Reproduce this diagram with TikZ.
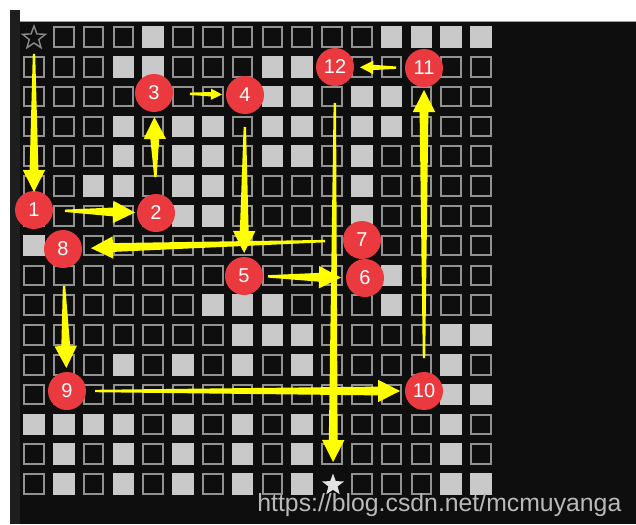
\documentclass[tikz,border=0pt]{standalone}
\usepackage{fontspec}
\setmainfont{Liberation Sans}
\usetikzlibrary{calc, shapes.geometric}
\definecolor{pagebg}{HTML}{FFFFFF}
\definecolor{panelbg}{HTML}{0E0E0E}
\definecolor{sidebar}{HTML}{1E1E1E}
\definecolor{topline}{HTML}{A0A0A0}
\definecolor{celledge}{HTML}{929292}
\definecolor{cellfill}{HTML}{C9C9C9}
\definecolor{badgefill}{HTML}{EB3A3F}
\definecolor{pathyellow}{HTML}{FFFF00}
\definecolor{staredge}{HTML}{8A8A8A}
\definecolor{starfill}{HTML}{E2E2E2}
\definecolor{wmtext}{HTML}{B9B9B9}

% tapered yellow arrow: from, to, gap at start, gap at tip, head scale
\newcommand{\flowarrow}[5]{%
  \path ($(#1)!#3!(#2)$) coordinate (fa-s) ($(#2)!#4!(#1)$) coordinate (fa-t);
  \path ($(fa-t)!{#5*11pt}!(fa-s)$) coordinate (fa-b);
  \fill[pathyellow] ($(fa-s)!0.6pt!90:(fa-t)$) -- ($(fa-b)!{#5*2.2pt}!90:(fa-t)$)
    -- ($(fa-b)!{#5*5.6pt}!90:(fa-t)$) -- (fa-t) -- ($(fa-b)!{#5*5.6pt}!-90:(fa-t)$)
    -- ($(fa-b)!{#5*2.2pt}!-90:(fa-t)$) -- ($(fa-s)!0.6pt!-90:(fa-t)$) -- cycle;
}

\begin{document}
\begin{tikzpicture}[x=0.5pt, y=-0.5pt,
  cellbox/.style={rectangle, draw=celledge, fill=panelbg, line width=1pt,
                  minimum size=9.75pt, inner sep=0pt},
  cellfull/.style={rectangle, fill=cellfill, minimum size=10.75pt, inner sep=0pt},
  badge/.style={circle, fill=badgefill, minimum size=19pt, inner sep=0pt,
                text=white, font=\fontsize{10}{10}\selectfont},
  startstar/.style={star, star points=5, star point ratio=2.4, draw=staredge,
                    fill=panelbg, line width=0.7pt, minimum size=12pt, inner sep=0pt},
  goalstar/.style={star, star points=5, star point ratio=2.4, fill=starfill,
                   minimum size=11.5pt, inner sep=0pt},
  wmark/.style={text=wmtext, font=\fontsize{12.4}{12.4}\selectfont, inner sep=0pt},
]
\useasboundingbox (0,0) rectangle (636,524);
% ================= window background ========================================
\fill[pagebg] (0,0) rectangle (636,524);
\fill[sidebar] (10,10) rectangle (20,524);
\fill[panelbg] (20,22) rectangle (636,524);
\draw[topline, line width=0.5pt] (20,22) -- (636,22);
% ================= 16 x 16 grid of cells ====================================
\foreach \r in {0,...,15}{
  \foreach \c in {0,...,15}{
    \pgfmathtruncatemacro\skipcell{(\r==0 && \c==0) || (\r==15 && \c==10)}
    \ifnum\skipcell=0
      \node[cellbox] (cell-\r-\c) at ({34+29.8*\c},{37+29.8*\r}) {};
    \fi
  }
}
% filled (blocked) cells, per row
\foreach \r/\cols in {0/{4,12,13,14,15}, 1/{3,4,8,9}, 2/{8,9,11,12},
    3/{3,5,6,8,9,11,12}, 4/{3,5,6,8,9,11}, 5/{2,3,5,6,11}, 6/{5,6,11},
    7/{0}, 8/{12}, 9/{6,7,8,12}, 10/{7,8,9,14,15}, 11/{3,5,7,9,14},
    12/{14,15}, 13/{0,1,2,3,5,7,9,14}, 14/{1,3,5,7,9,14},
    15/{1,3,5,7,9,14,15}}{
  \foreach \c in \cols
    \node[cellfull] (full-\r-\c) at ({34+29.8*\c},{37+29.8*\r}) {};
}
% ================= start / goal ============================================
\node[startstar] (start) at (34,38) {};
\node[goalstar] (goal) at (333,485) {};
% ================= numbered steps ==========================================
\node[badge] (n1) at (34,210) {1};
\node[badge] (n2) at (156,213) {2};
\node[badge] (n3) at (154,93) {3};
\node[badge] (n4) at (245,95) {4};
\node[badge] (n5) at (244,276) {5};
\node[badge] (n7) at (362,240) {7};
\node[badge] (n6) at (365,278) {6};
\node[badge] (n8) at (63,249) {8};
\node[badge] (n9) at (67,391) {9};
\node[badge] (n10) at (424,391) {10};
\node[badge] (n11) at (424,68) {11};
\node[badge] (n12) at (335,67) {12};
% ================= route arrows ============================================
\flowarrow{start}{n1}{8pt}{9pt}{1}
\flowarrow{n1}{n2}{15.5pt}{10.5pt}{1}
\flowarrow{n2}{n3}{18pt}{12pt}{1}
\flowarrow{n3}{n4}{18pt}{11.5pt}{0.5}
\flowarrow{n4}{n5}{16pt}{11.5pt}{1}
\flowarrow{n5}{n6}{12pt}{12pt}{1}
\flowarrow{n7}{n8}{18.5pt}{14pt}{1}
\flowarrow{n8}{n9}{18.5pt}{11.5pt}{1}
\flowarrow{n9}{n10}{14pt}{12pt}{1}
\flowarrow{n10}{n11}{16.5pt}{11pt}{1}
\flowarrow{n11}{n12}{14pt}{12.5pt}{0.6}
\flowarrow{n12}{goal}{18pt}{11.5pt}{1}
% ================= watermark ================================================
\node[wmark, anchor=base west] (wm) at (257,511) {https://blog.csdn.net/mcmuyanga};
\end{tikzpicture}
\end{document}
